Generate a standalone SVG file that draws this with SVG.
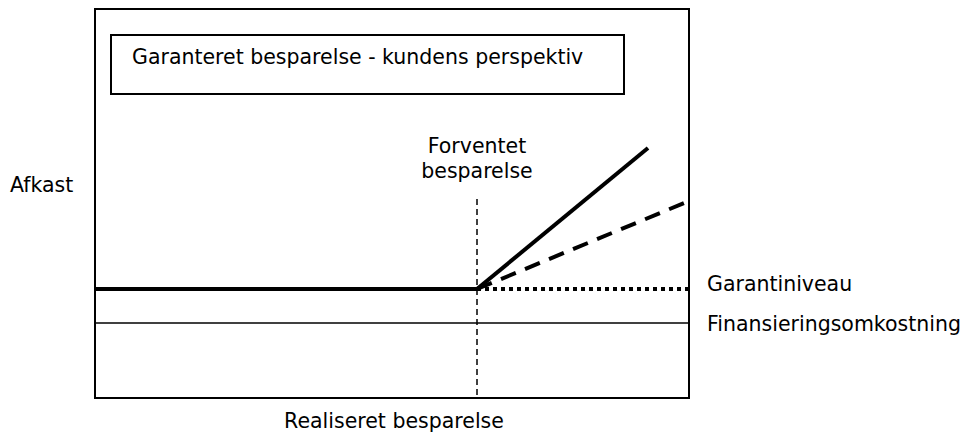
<svg xmlns="http://www.w3.org/2000/svg" width="970" height="435" viewBox="0 0 970 435">
<style>
text{font-family:"DejaVu Sans","Verdana",sans-serif;font-size:20.5px;fill:#000}
.frame{fill:none;stroke:#000;stroke-width:2}
.thick{fill:none;stroke:#000;stroke-width:4}
</style>
<rect width="970" height="435" fill="#fff"/>
<g id="frame"><rect class="frame" x="95" y="9" width="594" height="389"/></g>
<g id="title"><rect class="frame" x="111" y="35" width="513" height="59"/>
<text x="132" y="64">Garanteret besparelse - kundens perspektiv</text></g>
<g id="labels">
<text x="10" y="192">Afkast</text>
<text x="477" y="153" text-anchor="middle">Forventet</text>
<text x="477" y="178" text-anchor="middle">besparelse</text>
<text x="707" y="291">Garantiniveau</text>
<text x="707" y="331">Finansieringsomkostning</text>
<text x="394" y="428" text-anchor="middle">Realiseret besparelse</text>
</g>
<g id="connectors">
<line x1="477" y1="199" x2="477" y2="398" stroke="#000" stroke-width="1.5" stroke-dasharray="6,4"/>
<line x1="95" y1="323" x2="689" y2="323" stroke="#000" stroke-width="1.5"/>
<line class="thick" x1="95" y1="289" x2="477" y2="289"/>
<line class="thick" x1="477" y1="289" x2="648" y2="148"/>
<line x1="477" y1="289" x2="689" y2="201" stroke="#000" stroke-width="4" stroke-dasharray="16,10"/>
<line x1="477" y1="289" x2="689" y2="289" stroke="#000" stroke-width="4" stroke-dasharray="4,4"/>
</g>
</svg>
